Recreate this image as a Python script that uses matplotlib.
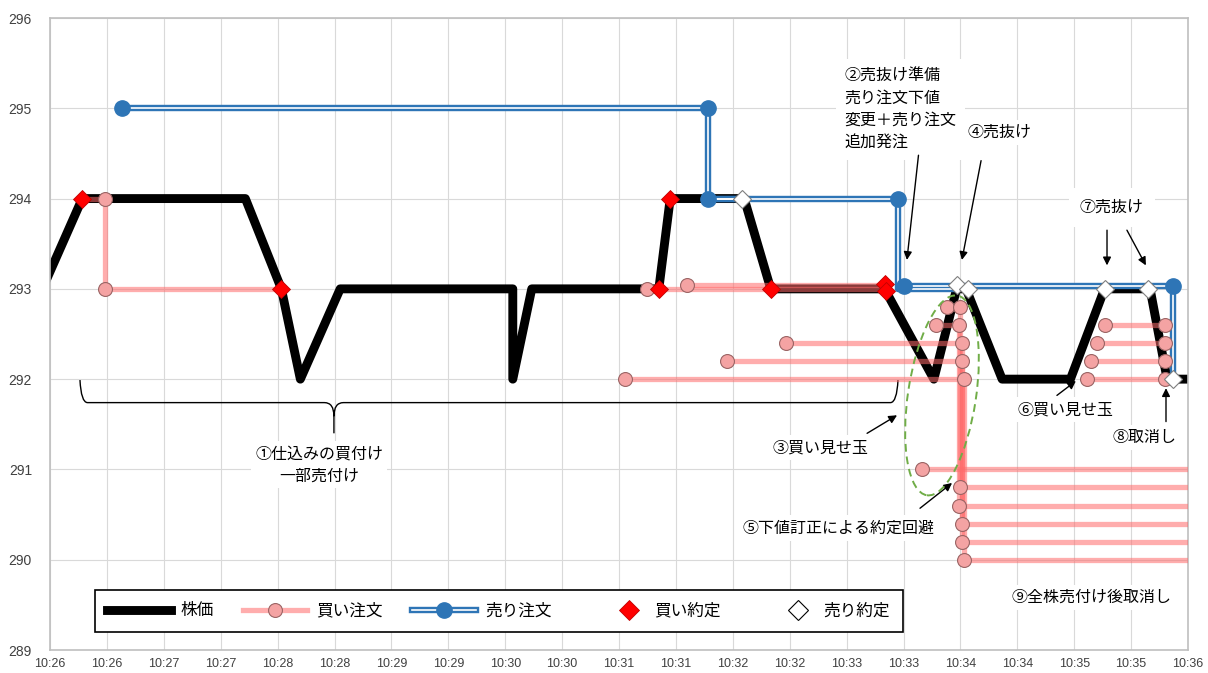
import matplotlib
matplotlib.use("Agg")
import matplotlib.pyplot as plt
from matplotlib.lines import Line2D
from matplotlib.path import Path
from matplotlib.patches import PathPatch, Ellipse
from matplotlib.legend_handler import HandlerLine2D
from matplotlib import transforms

plt.rcParams['font.family'] = ['Noto Sans CJK JP', 'DejaVu Sans']

# ---- data (times as hh:mm:ss, prices in yen) ----
price_t = ["10:25:56", "10:26:17", "10:27:43", "10:28:02", "10:28:12", "10:28:33",
           "10:30:04", "10:30:04", "10:30:14", "10:31:21", "10:31:27", "10:32:06",
           "10:32:20", "10:33:20", "10:33:46", "10:33:58", "10:34:03", "10:34:22",
           "10:34:58", "10:35:16", "10:35:40", "10:35:49", "10:36:05"]
price_v = [293, 294, 294, 293, 292, 293, 293, 292, 293, 293, 294, 294,
           293, 293, 292, 293, 293, 292, 292, 293, 293, 292, 292]

# buy orders: each path is the life of one order (placed / revised / filled or cancelled)
buy_paths = [
    [("10:26:17", 294), ("10:26:29", 294), ("10:26:29", 293), ("10:28:02", 293)],
    [("10:31:15", 293), ("10:33:20", 293)],
    [("10:31:36", 293.04), ("10:33:21", 293.04)],
    [("10:31:03", 292.0), ("10:34:02", 292.0), ("10:34:02", 290.0), ("10:36:10", 290.0)],
    [("10:31:57", 292.2), ("10:34:01", 292.2), ("10:34:01", 290.2), ("10:36:10", 290.2)],
    [("10:32:28", 292.4), ("10:34:01", 292.4), ("10:34:01", 290.4), ("10:36:10", 290.4)],
    [("10:33:47", 292.6), ("10:33:59", 292.6), ("10:33:59", 290.6), ("10:36:10", 290.6)],
    [("10:33:53", 292.8), ("10:34:00", 292.8), ("10:34:00", 290.8), ("10:36:10", 290.8)],
    [("10:33:40", 291.0), ("10:36:10", 291.0)],
    [("10:35:07", 292.0), ("10:35:48", 292.0)],
    [("10:35:09", 292.2), ("10:35:48", 292.2)],
    [("10:35:12", 292.4), ("10:35:48", 292.4)],
    [("10:35:16", 292.6), ("10:35:48", 292.6)],
]
buy_marks = [("10:26:29", 294), ("10:26:29", 293), ("10:31:15", 293), ("10:31:36", 293.04),
             ("10:31:03", 292.0), ("10:31:57", 292.2), ("10:32:28", 292.4),
             ("10:33:47", 292.6), ("10:33:53", 292.8), ("10:33:40", 291.0),
             ("10:34:02", 292.0), ("10:34:01", 292.2), ("10:34:01", 292.4),
             ("10:33:59", 292.6), ("10:34:00", 292.8),
             ("10:34:02", 290.0), ("10:34:01", 290.2), ("10:34:01", 290.4),
             ("10:33:59", 290.6), ("10:34:00", 290.8),
             ("10:35:07", 292.0), ("10:35:09", 292.2), ("10:35:12", 292.4), ("10:35:16", 292.6),
             ("10:35:48", 292.0), ("10:35:48", 292.2), ("10:35:48", 292.4), ("10:35:48", 292.6)]

sell_paths = [
    [("10:26:38", 295), ("10:31:47", 295), ("10:31:47", 294), ("10:32:05", 294)],
    [("10:31:47", 294), ("10:33:27", 294), ("10:33:27", 293), ("10:33:58", 293)],
    [("10:33:30", 293.03), ("10:35:52", 293.03), ("10:35:52", 292)],
]
sell_marks = [("10:26:38", 295), ("10:31:47", 295), ("10:31:47", 294),
              ("10:33:27", 294), ("10:33:30", 293.03), ("10:35:52", 293.03)]

buy_fills = [("10:26:17", 294), ("10:28:02", 293), ("10:31:21", 293), ("10:31:27", 294),
             ("10:32:20", 293), ("10:33:20", 293.05), ("10:33:21", 292.98)]
sell_fills = [("10:32:05", 294), ("10:33:58", 293.04), ("10:34:04", 293),
              ("10:35:16", 293), ("10:35:39", 293), ("10:35:52", 292)]

tick_labels = ["10:26", "10:26", "10:27", "10:27", "10:28", "10:28", "10:29", "10:29",
               "10:30", "10:30", "10:31", "10:31", "10:32", "10:32", "10:33", "10:33",
               "10:34", "10:34", "10:35", "10:35", "10:36"]
y_ticks = [289, 290, 291, 292, 293, 294, 295, 296]


def sec(s):
    h, m, x = map(int, s.split(":"))
    return h * 3600 + m * 60 + x - (10 * 3600 + 26 * 60)


def xy(pts):
    return [sec(t) for t, _ in pts], [v for _, v in pts]


class RightMarker(HandlerLine2D):
    # single marker sits in the middle of xdata, so shift xdata to push it right
    def get_xdata(self, legend, xdescent, ydescent, width, height, fontsize):
        xd = [-xdescent + 0.52 * width, -xdescent + width]
        return xd, xd


BLACK = "black"
PINK = "#FF6B6B"
PINK_FACE = "#F4A3A3"
BLUE = "#2E75B6"

fig = plt.figure(figsize=(12.08, 6.73), dpi=100)
ax = fig.add_axes([50 / 1208, 23 / 673, 1138 / 1208, 632 / 673])

# stock price
ax.plot([sec(t) for t in price_t], price_v, color=BLACK, lw=6.4, solid_joinstyle="round",
        solid_capstyle="butt", zorder=2)

# sell orders: double line
for p in sell_paths:
    x, y = xy(p)
    ax.plot(x, y, color=BLUE, lw=4.6, zorder=3, solid_capstyle="butt")
    ax.plot(x, y, color="white", lw=1.2, zorder=3.1, solid_capstyle="butt")

# buy orders
for p in buy_paths:
    x, y = xy(p)
    ax.plot(x, y, color=PINK, lw=3.8, alpha=0.55, zorder=4, solid_capstyle="butt")

x, y = xy(buy_marks)
ax.plot(x, y, ls="none", marker="o", ms=10, mfc=PINK_FACE, mec="#9A6464", mew=0.8, zorder=5)
x, y = xy(sell_marks)
ax.plot(x, y, ls="none", marker="o", ms=11, mfc=BLUE, mec=BLUE, zorder=5)
x, y = xy(buy_fills)
ax.plot(x, y, ls="none", marker="D", ms=9.5, mfc="red", mec="#C00000", mew=0.6, zorder=6)
x, y = xy(sell_fills)
ax.plot(x, y, ls="none", marker="D", ms=9.5, mfc="white", mec="#7F7F7F", mew=0.8, zorder=6)

# axes
ax.set_xlim(0, 600)
ax.set_ylim(289, 296)
ax.set_xticks(range(0, 601, 30))
ax.set_xticklabels(tick_labels, fontfamily="Liberation Sans", fontsize=9, color="#404040")
ax.set_yticks(y_ticks)
ax.set_yticklabels([str(v) for v in y_ticks], fontfamily="Liberation Sans", fontsize=10,
                   color="#404040")
ax.tick_params(axis="x", length=0, pad=6)
ax.tick_params(axis="y", length=0, pad=13)
ax.grid(True, color="#D9D9D9", lw=0.8, zorder=0)
ax.set_axisbelow(True)
for s in ax.spines.values():
    s.set_color("#BFBFBF")
    s.set_linewidth(1.2)

# annotations
box = dict(facecolor="white", edgecolor="none", pad=3)
tfs = 11.5
ax.text(142, 291.05, "①仕込みの買付け\n一部売付け", ha="center", va="center",
        fontsize=tfs, linespacing=1.35, bbox=box, zorder=1.5)
ax.text(419, 295.45, "②売抜け準備\n売り注文下値\n変更＋売り注文\n追加発注", ha="left", va="top",
        fontsize=tfs, linespacing=1.4, bbox=dict(facecolor="white", edgecolor="none", pad=6),
        zorder=1.5)
ax.text(484, 294.73, "④売抜け", ha="left", va="center", fontsize=tfs, bbox=box, zorder=1.5)
ax.text(381, 291.24, "③買い見せ玉", ha="left", va="center", fontsize=tfs, bbox=box, zorder=1.5)
ax.text(365, 290.35, "⑤下値訂正による約定回避", ha="left", va="center", fontsize=tfs,
        bbox=box, zorder=1.5)
ax.text(510, 291.66, "⑥買い見せ玉", ha="left", va="center", fontsize=tfs, bbox=box, zorder=1.5)
ax.text(543, 293.90, "⑦売抜け", ha="left", va="center", fontsize=tfs,
        bbox=dict(facecolor="white", edgecolor="none", pad=8), zorder=1.5)
ax.text(560, 291.35, "⑧取消し", ha="left", va="center", fontsize=tfs, bbox=box, zorder=1.5)
ax.text(507, 289.58, "⑨全株売付け後取消し", ha="left", va="center", fontsize=tfs,
        bbox=box, zorder=1.5)

arrows = [((457.9, 294.48), (451.8, 293.32)),
          ((490.9, 294.42), (480.8, 293.32)),
          ((430.8, 291.40), (446.6, 291.60)),
          ((458.7, 290.57), (475.6, 290.85)),
          ((530.9, 291.82), (540.9, 291.98)),
          ((557.3, 293.65), (557.3, 293.26)),
          ((567.8, 293.65), (577.8, 293.26)),
          ((588.4, 291.53), (588.4, 291.90))]
for tail, head in arrows:
    ax.annotate("", xy=head, xytext=tail,
                arrowprops=dict(arrowstyle="-|>", color="black", lw=1, mutation_scale=12,
                                shrinkA=0, shrinkB=0), zorder=7)

# brace under the first phase
bl, br, tip, top, mid, bot = 15.8, 447.1, 149.7, 291.99, 291.74, 291.40
verts = [(bl, top), (bl + 0.6, mid), (bl + 4, mid), (tip - 5, mid),
         (tip, mid), (tip, mid - 0.15), (tip, bot),
         (tip, mid - 0.15), (tip, mid), (tip + 5, mid), (br - 4, mid),
         (br - 0.6, mid), (br, top)]
codes = [Path.MOVETO, Path.CURVE3, Path.CURVE3, Path.LINETO,
         Path.CURVE3, Path.CURVE3, Path.LINETO,
         Path.MOVETO, Path.CURVE3, Path.CURVE3, Path.LINETO,
         Path.CURVE3, Path.CURVE3]
ax.add_patch(PathPatch(Path(verts, codes), fill=False, edgecolor="black", lw=1, zorder=1.6))

# dashed ellipse around the spoof orders
trans = fig.dpi_scale_trans + transforms.ScaledTranslation(470.3, 291.82, ax.transData)
ax.add_patch(Ellipse((0, 0), 0.68, 2.02, angle=-8.6, transform=trans, fill=False,
                     edgecolor="#70AD47", lw=1.4, ls=(0, (4, 2.5)), zorder=7))

# legend
h_price = Line2D([], [], color=BLACK, lw=6.4)
h_buy = (Line2D([], [], color=PINK, lw=3.8, alpha=0.55),
         Line2D([], [], ls="none", marker="o", ms=10, mfc=PINK_FACE, mec="#9A6464", mew=0.8))
h_sell = (Line2D([], [], color=BLUE, lw=4.6), Line2D([], [], color="white", lw=1.2),
          Line2D([], [], ls="none", marker="o", ms=11, mfc=BLUE, mec=BLUE))
h_bf = Line2D([], [], ls="none", marker="D", ms=10.5, mfc="red", mec="#C00000", mew=0.6)
h_sf = Line2D([], [], ls="none", marker="D", ms=10.5, mfc="white", mec="black", mew=0.8)
leg = ax.legend([h_price, h_buy, h_sell, h_bf, h_sf],
                ["株価", "買い注文", "売り注文", "買い約定", "売り約定"],
                handler_map={h_bf: RightMarker(), h_sf: RightMarker()},
                ncol=5, loc="lower left", bbox_to_anchor=(0.0395, 0.0285), borderaxespad=0,
                fontsize=12, handlelength=3.8, handletextpad=0.6, columnspacing=1.75,
                frameon=True, fancybox=False, framealpha=1, edgecolor="black",
                borderpad=0.75)
leg.get_frame().set_linewidth(1.2)
leg.set_zorder(8)

fig.savefig("out.png", dpi=100)
